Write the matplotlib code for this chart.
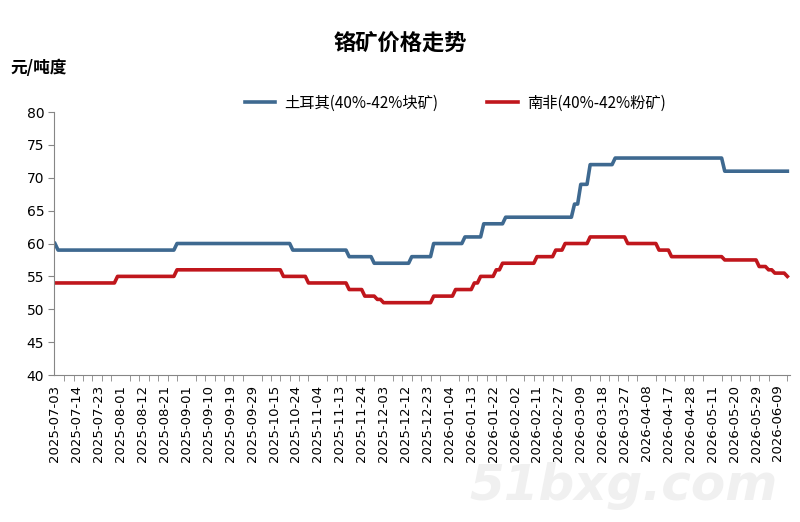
import numpy as np
import matplotlib
matplotlib.use("Agg")
import matplotlib.pyplot as plt
from matplotlib.lines import Line2D

# x-axis labels (one every 7 trading days)
dates = [
    "2025-07-03", "2025-07-14", "2025-07-23", "2025-08-01", "2025-08-12",
    "2025-08-21", "2025-09-01", "2025-09-10", "2025-09-19", "2025-09-29",
    "2025-10-15", "2025-10-24", "2025-11-04", "2025-11-13", "2025-11-24",
    "2025-12-03", "2025-12-12", "2025-12-23", "2026-01-04", "2026-01-13",
    "2026-01-22", "2026-02-02", "2026-02-11", "2026-02-27", "2026-03-09",
    "2026-03-18", "2026-03-27", "2026-04-08", "2026-04-17", "2026-04-28",
    "2026-05-11", "2026-05-20", "2026-05-29", "2026-06-09",
]

# daily prices, stored as price levels and how many days each level held
turkey_levels = [60, 59, 60, 59, 58, 57, 58, 60, 61, 63, 64, 66, 69, 72, 73, 71]
turkey_days = [1, 38, 37, 18, 8, 12, 7, 10, 6, 7, 22, 2, 3, 8, 35, 21]

sa_levels = [54, 55, 56, 55, 54, 53, 52, 51.5, 51, 52, 53, 54, 55, 56, 57, 58,
             59, 60, 61, 60, 59, 58, 57.5, 56.5, 56, 55.5, 55]
sa_days = [20, 19, 34, 8, 13, 5, 4, 2, 16, 7, 6, 2, 5, 2, 11, 6,
           3, 8, 12, 10, 4, 17, 11, 3, 2, 4, 1]

turkey = np.repeat(turkey_levels, turkey_days)
south_africa = np.repeat(sa_levels, sa_days)
x = np.arange(len(turkey))

cjk = ["Noto Sans CJK SC", "DejaVu Sans"]
blue = "#3e6990"
red = "#c0161c"

fig = plt.figure(figsize=(8, 5.22), dpi=100)
ax = fig.add_axes([0.0675, 0.2816, 0.9206, 0.5038])

ax.plot(x, turkey, color=blue, lw=2.6)
ax.plot(x, south_africa, color=red, lw=2.6)

ax.set_ylim(40, 80)
ax.set_yticks(range(40, 81, 5))
ax.set_xlim(-0.3, len(x))
ax.set_xticks(x[::7])
ax.set_xticklabels(dates, rotation=90, fontsize=9.5)
ax.set_xticks(x[::3], minor=True)

for s in ["top", "right"]:
    ax.spines[s].set_visible(False)
for s in ["left", "bottom"]:
    ax.spines[s].set_color("#868686")

ax.tick_params(axis="y", length=4, color="#868686", labelsize=10, pad=3)
ax.tick_params(axis="x", which="major", length=0, pad=7)
ax.tick_params(axis="x", which="minor", length=4, color="#868686")

fig.text(0.5, 1 - 43 / 522, "铬矿价格走势", ha="center", va="center",
         fontsize=16, fontweight="bold", family=cjk)
fig.text(10 / 800, 1 - 68 / 522, "元/吨度", ha="left", va="center",
         fontsize=12, fontweight="bold", family=cjk)

handles = [Line2D([], [], color=blue, lw=2.6), Line2D([], [], color=red, lw=2.6)]
fig.legend(handles, ["土耳其(40%-42%块矿)", "南非(40%-42%粉矿)"],
           loc="center", bbox_to_anchor=(0.569, 1 - 103 / 522), ncol=2,
           frameon=False, handlelength=2.0, handletextpad=0.6,
           columnspacing=3.2, prop={"family": cjk, "size": 11})

# faint site watermark
fig.text(0.78, 1 - 486 / 522, "51bxg.com", ha="center", va="center",
         fontsize=36, fontweight="bold", style="italic", color="#f0f0f0",
         zorder=0)

fig.savefig("out.png", dpi=100)
plt.close(fig)
